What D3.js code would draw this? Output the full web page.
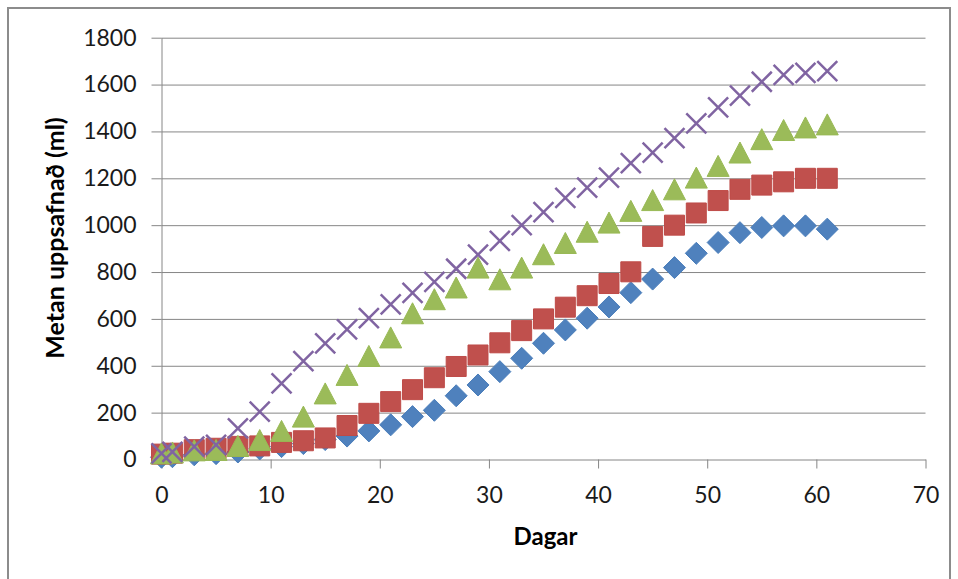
<!DOCTYPE html>
<html>
<head>
<meta charset="utf-8">
<script src="https://cdn.jsdelivr.net/npm/d3@7"></script>
<style>
  body { margin: 0; background: #fff; }
  svg { display: block; }
  .axis text { font-family: Lato, "Noto Sans", sans-serif; font-size: 23px; fill: #1a1a1a; }
  .axis path, .axis line { stroke: #868686; }
  .grid line { stroke: #868686; }
  .grid path { display: none; }
  .title { font-family: Lato, "Noto Sans", sans-serif; font-weight: bold; fill: #000; }
</style>
</head>
<body>
<div id="chart"></div>
<script>
// days and cumulated methane (ml) per series
var days = [0, 1, 3, 5, 7, 9, 11, 13, 15, 17, 19, 21, 23, 25, 27, 29, 31,
            33, 35, 37, 39, 41, 43, 45, 47, 49, 51, 53, 55, 57, 59, 61];

var seriesBlue = [10, 12, 20, 25, 32, 45, 55, 68, 85, 100, 122, 148, 183, 210, 272, 318, 375,
                  432, 496, 553, 603, 651, 712, 770, 819, 880, 926, 968, 990, 997, 997, 983];

var seriesRed = [23, 27, 42, 48, 56, 58, 73, 80, 92, 145, 197, 247, 298, 349, 397, 446, 498,
                 550, 600, 650, 699, 751, 801, 952, 1000, 1052, 1105, 1153, 1171, 1185, 1200, 1200];

var seriesGreen = [26, 30, 39, 41, 58, 83, 122, 183, 282, 361, 442, 521, 624, 684, 734, 819, 769,
                   819, 876, 924, 972, 1011, 1061, 1107, 1153, 1203, 1253, 1310, 1367, 1406, 1417, 1430];

var seriesPurple = [26, 33, 55, 62, 133, 204, 325, 420, 496, 555, 603, 662, 711, 758, 814, 874, 933,
                    1000, 1056, 1116, 1160, 1203, 1265, 1310, 1371, 1434, 1503, 1553, 1612, 1641, 1650, 1657];

var xTicks = [0, 10, 20, 30, 40, 50, 60, 70];
var yTicks = [0, 200, 400, 600, 800, 1000, 1200, 1400, 1600, 1800];

var W = 958, H = 579;
var plotLeft = 161.5, plotRight = 925.5, plotTop = 37.7, plotBottom = 459.5;

var svg = d3.select("#chart").append("svg")
    .attr("width", W)
    .attr("height", H);

// outer frame
svg.append("rect")
    .attr("x", 8).attr("y", 8)
    .attr("width", 942).attr("height", 620)
    .attr("fill", "#fff")
    .attr("stroke", "#8c8c8c")
    .attr("stroke-width", 2);

var x = d3.scaleLinear().domain([0, 70]).range([plotLeft, plotRight]);
var y = d3.scaleLinear().domain([0, 1800]).range([plotBottom, plotTop]);

// horizontal gridlines
svg.append("g")
    .attr("class", "grid")
    .attr("transform", "translate(" + plotLeft + ",0)")
    .call(d3.axisLeft(y).tickValues(yTicks.slice(1)).tickSize(-(plotRight - plotLeft)).tickFormat(""));

svg.append("g")
    .attr("class", "axis")
    .attr("transform", "translate(" + plotLeft + ",0)")
    .call(d3.axisLeft(y).tickValues(yTicks).tickFormat(d3.format("d"))
        .tickSize(10).tickSizeOuter(0).tickPadding(15));

svg.append("g")
    .attr("class", "axis")
    .attr("transform", "translate(0," + plotBottom + ")")
    .call(d3.axisBottom(x).tickValues(xTicks).tickFormat(d3.format("d"))
        .tickSize(9).tickSizeOuter(0).tickPadding(18));

// axis titles
svg.append("text")
    .attr("class", "title")
    .attr("x", (plotLeft + plotRight) / 2 + 2)
    .attr("y", 545)
    .attr("text-anchor", "middle")
    .style("font-size", "24px")
    .text("Dagar");

svg.append("text")
    .attr("class", "title")
    .attr("transform", "translate(54,238) rotate(-90)")
    .attr("text-anchor", "middle")
    .attr("dominant-baseline", "central")
    .style("font-size", "25px")
    .text("Metan uppsafnað (ml)");

// marker shapes, Excel style
var shapes = {
    diamond: "M0,-11L11,0L0,11L-11,0Z",
    square: "M-10,-10H10V10H-10Z",
    triangle: "M0,-10.5L11,10.5H-11Z",
    cross: "M-10,-10L10,10M-10,10L10,-10"
};

var series = [
    { values: seriesBlue, shape: "diamond", fill: "#4F81BD", stroke: "#4A7EBB" },
    { values: seriesRed, shape: "square", fill: "#C0504D", stroke: "#BE4B48" },
    { values: seriesGreen, shape: "triangle", fill: "#9BBB59", stroke: "#98B954" },
    { values: seriesPurple, shape: "cross", fill: "none", stroke: "#8064A2" }
];

series.forEach(function (s) {
    svg.append("g")
        .selectAll("path")
        .data(days.map(function (d, i) { return [d, s.values[i]]; }))
        .enter().append("path")
        .attr("transform", function (d) { return "translate(" + x(d[0]) + "," + y(d[1]) + ")"; })
        .attr("d", shapes[s.shape])
        .attr("fill", s.fill)
        .attr("stroke", s.stroke)
        .attr("stroke-width", s.shape == "cross" ? 2.5 : 1);
});
</script>
</body>
</html>
